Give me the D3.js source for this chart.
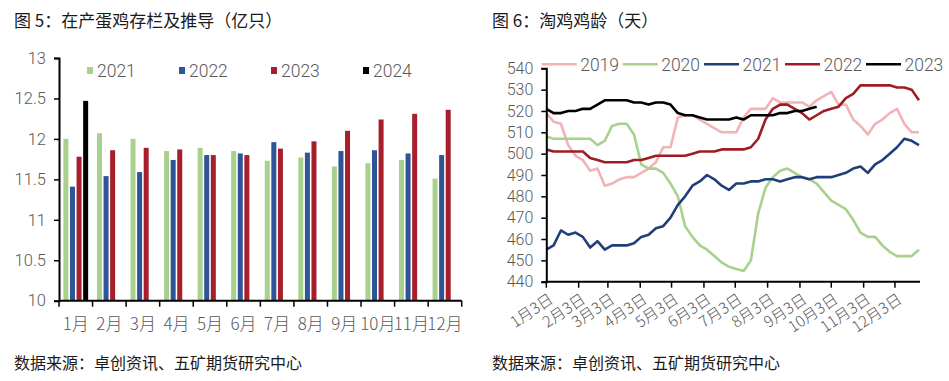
<!DOCTYPE html>
<html><head><meta charset="utf-8">
<script src="https://cdn.jsdelivr.net/npm/d3@7"></script>
<style>
html,body{margin:0;padding:0;background:#fff;}
svg text{font-family:"Noto Sans CJK SC","Noto Sans",sans-serif;}
svg text.num{font-family:Roboto,"Liberation Sans",sans-serif;}
</style></head>
<body>
<svg id="c" width="949" height="381"></svg>
<script>
// ---------- Chart 5 data ----------
const months = ["1月","2月","3月","4月","5月","6月","7月","8月","9月","10月","11月","12月"];
const barYears = ["2021","2022","2023","2024"];
const bar2021 = [12.00,12.07,12.00,11.85,11.89,11.85,11.73,11.77,11.66,11.70,11.74,11.51];
const bar2022 = [11.41,11.54,11.59,11.74,11.80,11.82,11.96,11.83,11.85,11.86,11.82,11.80];
const bar2023 = [11.78,11.86,11.89,11.87,11.80,11.80,11.88,11.97,12.10,12.24,12.31,12.36];
const bar2024 = [12.47];
const barTicks = [10,10.5,11,11.5,12,12.5,13];

// ---------- Chart 6 data (weekly, from 1月3日) ----------
const lineYears = ["2019","2020","2021","2022","2023"];
const age2019 = [519,515,514,504,499,497,492,493,485,486,488,489,489,491,493,496,503,503,517,518,518,516,514,512,510,510,510,517,521,521,521,526,524,524,524,524,522,525,527,529,523,523,516,513,509,514,516,519,521,514,510,510];
const age2020 = [508,507,507,507,507,507,507,504,506,513,514,514,509,495,493,493,491,486,480,466,461,457,455,452,449,447,446,445,450,472,484,489,492,493,491,489,488,486,482,478,476,474,469,463,461,461,457,454,452,452,452,455];
const age2021 = [455,457,464,462,463,461,456,459,455,457,457,457,458,461,462,465,466,470,476,480,485,487,490,488,485,483,486,486,487,487,488,488,487,488,489,489,488,489,489,489,490,491,493,494,491,495,497,500,503,507,506,504];
const age2022 = [502,501,501,501,501,501,498,497,496,496,496,496,497,497,498,499,499,499,499,499,500,501,501,501,502,502,502,502,503,507,516,521,523,523,521,519,516,518,520,521,522,526,528,532,532,532,532,532,531,531,530,525];
const age2023 = [521,519,519,520,520,521,521,523,525,525,525,525,524,524,523,524,524,523,519,518,518,517,516,516,516,516,517,516,518,518,518,518,519,519,520,520,521,522];
const ageTicks = [440,450,460,470,480,490,500,510,520,530,540];
const tickMonths = [1,2,3,4,5,6,7,8,9,10,11,12];

const svg = d3.select("#c");
const gray = "#595959";
const titleColor = "#1a1a1a";

// ================= Chart 5 =================
(function(){
  const barColors = ["#A9D18E","#2F5597","#A81F2C","#000000"];
  const series = [bar2021,bar2022,bar2023,bar2024];
  const x0 = d3.scaleBand().domain(months).range([59,461.7]).paddingInner(0).paddingOuter(0);
  const x1 = d3.scaleBand().domain(barYears).range([4.4, x0.bandwidth()-4.4]).paddingInner(0.24).paddingOuter(0);
  const y = d3.scaleLinear().domain([10,13]).range([300.7,58]);

  svg.append("text").attr("x",14).attr("y",27).attr("font-size",17).attr("fill",titleColor)
     .text("图 5：在产蛋鸡存栏及推导（亿只）");

  const g = svg.append("g");
  series.forEach((vals,si)=>{
    g.selectAll(null).data(vals).enter().append("rect")
      .attr("x",(d,i)=>x0(months[i])+x1(barYears[si]))
      .attr("width",x1.bandwidth())
      .attr("y",d=>y(d))
      .attr("height",d=>y(10)-y(d))
      .attr("fill",barColors[si]);
  });

  const ya = svg.append("g").attr("transform","translate(59,0)")
    .call(d3.axisLeft(y).tickValues(barTicks).tickSize(5).tickPadding(8).tickFormat(d3.format("")));
  ya.select(".domain").attr("stroke","#000").attr("stroke-width",2);
  ya.selectAll(".tick line").attr("stroke","#000").attr("stroke-width",1.5);
  ya.selectAll("text").attr("class","num").attr("font-size",16.5).attr("fill",gray).attr("font-weight",300);

  const xa = svg.append("g").attr("transform","translate(0,300.7)");
  xa.append("line").attr("x1",59).attr("x2",461.7).attr("stroke","#000").attr("stroke-width",2);
  const bounds = months.map(m=>x0(m)).concat([x0.range()[1]]);
  xa.selectAll(null).data(bounds).enter().append("line")
    .attr("x1",d=>d).attr("x2",d=>d).attr("y1",0).attr("y2",6).attr("stroke","#000").attr("stroke-width",1.5);
  xa.selectAll(null).data(months).enter().append("text")
    .attr("x",d=>x0(d)+x0.bandwidth()/2).attr("y",29).attr("text-anchor","middle")
    .attr("font-size",17).attr("fill",gray).attr("font-weight",300).text(d=>d);

  const lx = [87,179,271,363];
  barYears.forEach((yr,i)=>{
    svg.append("rect").attr("x",lx[i]).attr("y",67).attr("width",6).attr("height",7).attr("fill",barColors[i]);
    svg.append("text").attr("class","num").attr("x",lx[i]+10).attr("y",77).attr("font-size",17.5).attr("fill",gray).attr("font-weight",300).text(yr);
  });

  svg.append("text").attr("x",14).attr("y",369).attr("font-size",16).attr("fill",titleColor)
     .text("数据来源：卓创资讯、五矿期货研究中心");
})();

// ================= Chart 6 =================
(function(){
  const lineColors = ["#F2B3B6","#A9D18E","#203F7A","#9E1C26","#000000"];
  const series = [age2019,age2020,age2021,age2022,age2023];
  const start = new Date(2021,0,3);
  const dayMs = 86400000;
  const x = d3.scaleTime().domain([start,new Date(2021,11,27)]).range([546.3,920]);
  const y = d3.scaleLinear().domain([440,540]).range([281.7,68.3]);

  svg.append("text").attr("x",492).attr("y",27).attr("font-size",17).attr("fill",titleColor)
     .text("图 6：淘鸡鸡龄（天）");

  const line = d3.line().x((d,i)=>x(new Date(start.getTime()+i*7*dayMs))).y(d=>y(d));
  series.forEach((vals,si)=>{
    svg.append("path").datum(vals).attr("d",line).attr("fill","none")
      .attr("stroke",lineColors[si]).attr("stroke-width",2.6).attr("stroke-linejoin","round");
  });

  const ya = svg.append("g").attr("transform","translate(546.3,0)")
    .call(d3.axisLeft(y).tickValues(ageTicks).tickSize(5).tickPadding(8));
  ya.select(".domain").attr("stroke","#000").attr("stroke-width",2);
  ya.selectAll(".tick line").attr("stroke","#000").attr("stroke-width",1.5);
  ya.selectAll("text").attr("class","num").attr("font-size",16).attr("fill",gray).attr("font-weight",300);

  const tickDates = tickMonths.map(m=>new Date(2021,m-1,3));
  const xa = svg.append("g").attr("transform","translate(0,281.7)");
  xa.append("line").attr("x1",546.3).attr("x2",920).attr("stroke","#000").attr("stroke-width",2);
  xa.selectAll(null).data(tickDates).enter().append("line")
    .attr("x1",d=>x(d)).attr("x2",d=>x(d)).attr("y1",0).attr("y2",6).attr("stroke","#000").attr("stroke-width",1.5);
  xa.selectAll(null).data(tickDates).enter().append("text")
    .attr("transform",d=>`translate(${x(d)+2},${11}) rotate(-34)`)
    .attr("text-anchor","end").attr("dy","0.7em")
    .attr("font-size",15.5).attr("fill",gray).attr("font-weight",300)
    .text(d=>`${d.getMonth()+1}月3日`);

  const lx = [541.7,622.7,704,785,866];
  lineYears.forEach((yr,i)=>{
    svg.append("line").attr("x1",lx[i]).attr("x2",lx[i]+35).attr("y1",64.3).attr("y2",64.3)
      .attr("stroke",lineColors[i]).attr("stroke-width",2.6);
    svg.append("text").attr("class","num").attr("x",lx[i]+38.5).attr("y",70.5).attr("font-size",17.5).attr("fill",gray).attr("font-weight",300).text(yr);
  });

  svg.append("text").attr("x",492).attr("y",369).attr("font-size",16).attr("fill",titleColor)
     .text("数据来源：卓创资讯、五矿期货研究中心");
})();
</script>
</body></html>
